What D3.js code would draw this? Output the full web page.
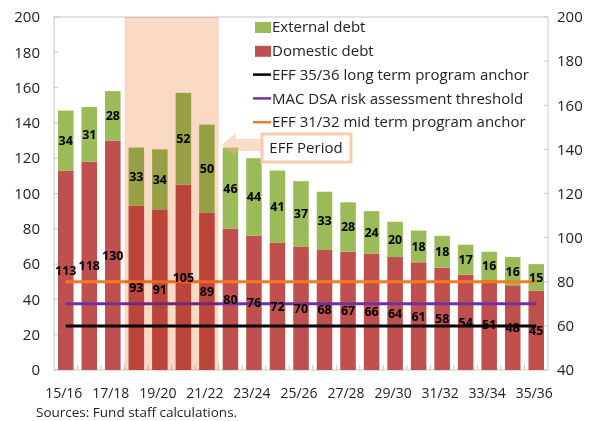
<!DOCTYPE html>
<html><head><meta charset="utf-8">
<script src="https://cdn.jsdelivr.net/npm/d3@7"></script>
<style>
html,body{margin:0;padding:0;background:#fff;}
svg{display:block;font-family:"Open Sans",sans-serif;}
</style></head>
<body><svg id="c" width="593" height="421"></svg>
<script>
const categories = ["15/16","16/17","17/18","18/19","19/20","20/21","21/22","22/23","23/24","24/25","25/26","26/27","27/28","28/29","29/30","30/31","31/32","32/33","33/34","34/35","35/36"];
const domestic = [113,118,130,93,91,105,89,80,76,72,70,68,67,66,64,61,58,54,51,48,45];
const external = [34,31,28,33,34,52,50,46,44,41,37,33,28,24,20,18,18,17,16,16,15];
const tickLabels = ["15/16","17/18","19/20","21/22","23/24","25/26","27/28","29/30","31/32","33/34","35/36"];
const leftTicks = [0,20,40,60,80,100,120,140,160,180,200];
const rightTicks = [40,60,80,100,120,140,160,180,200];
const anchors = [
  {name:"EFF 35/36 long term program anchor", value:60, color:"#000000"},
  {name:"MAC DSA risk assessment threshold", value:70, color:"#7030A0"},
  {name:"EFF 31/32 mid term program anchor", value:80, color:"#F47B20"}
];
const effPeriod = ["18/19","21/22"];
const colors = {ext:"#9BBB59", dom:"#C0504D"};

const svg = d3.select("#c");
const L=54, R=548, T=17, B=370;
const x = d3.scaleBand().domain(categories).range([L,R]).paddingInner(0.34).paddingOuter(0.17);
const xb = d3.scaleBand().domain(categories).range([L,R]);
const y = d3.scaleLinear().domain([0,200]).range([B,T]);
const y2 = d3.scaleLinear().domain([40,200]).range([B,T]);

// frame
svg.append("rect").attr("x",L).attr("y",T).attr("width",R-L).attr("height",B-T)
  .attr("fill","none").attr("stroke","#c8c8c8").attr("stroke-width",1);

// bars
const g = svg.append("g");
g.selectAll(".dom").data(categories).join("rect")
  .attr("x",d=>x(d)).attr("width",x.bandwidth())
  .attr("y",(d,i)=>y(domestic[i])).attr("height",(d,i)=>y(0)-y(domestic[i]))
  .attr("fill",colors.dom);
g.selectAll(".ext").data(categories).join("rect")
  .attr("x",d=>x(d)).attr("width",x.bandwidth())
  .attr("y",(d,i)=>y(domestic[i]+external[i])).attr("height",(d,i)=>y(domestic[i])-y(domestic[i]+external[i]))
  .attr("fill",colors.ext);

// bottom ticks
svg.append("g").selectAll("line").data(d3.range(1,categories.length)).join("line")
  .attr("x1",i=>L+i*xb.step()).attr("x2",i=>L+i*xb.step())
  .attr("y1",B-5).attr("y2",B).attr("stroke","#c8c8c8");
// left ticks
svg.append("g").selectAll("line").data(leftTicks).join("line")
  .attr("x1",L).attr("x2",L+4).attr("y1",d=>y(d)).attr("y2",d=>y(d)).attr("stroke","#c8c8c8");

// anchor lines (right axis)
const first = categories[0], last = categories[categories.length-1];
svg.append("g").selectAll("line").data(anchors).join("line")
  .attr("x1",x(first)+x.bandwidth()/2).attr("x2",x(last)+x.bandwidth()/2)
  .attr("y1",d=>y2(d.value)).attr("y2",d=>y2(d.value))
  .attr("stroke",d=>d.color).attr("stroke-width",3);

// EFF period shading
const sx0 = xb(effPeriod[0]), sx1 = xb(effPeriod[1])+xb.step();
svg.append("rect").attr("x",sx0).attr("y",T).attr("width",sx1-sx0).attr("height",B-T)
  .attr("fill","#F9D9C3").style("mix-blend-mode","multiply");

// labels
const lab = svg.append("g").attr("font-size",12.5).attr("font-weight",700).attr("fill","#000").attr("text-anchor","middle");
lab.selectAll(".ld").data(categories).join("text")
  .attr("x",d=>x(d)+x.bandwidth()/2).attr("y",(d,i)=>y(domestic[i]/2)).attr("dy","0.35em")
  .text((d,i)=>domestic[i]);
lab.selectAll(".le").data(categories).join("text")
  .attr("x",d=>x(d)+x.bandwidth()/2).attr("y",(d,i)=>y(domestic[i]+external[i]/2)).attr("dy","0.35em")
  .text((d,i)=>external[i]);

// left axis labels
svg.append("g").selectAll("text").data(leftTicks).join("text")
  .attr("x",40).attr("y",d=>y(d)).attr("dy","0.35em").attr("text-anchor","end")
  .attr("font-size",15).attr("fill","#222").text(d=>d);
// right axis
svg.append("g").selectAll("line").data(rightTicks).join("line")
  .attr("x1",R-4).attr("x2",R).attr("y1",d=>y2(d)).attr("y2",d=>y2(d)).attr("stroke","#c8c8c8");
svg.append("g").selectAll("text").data(rightTicks).join("text")
  .attr("x",557).attr("y",d=>y2(d)).attr("dy","0.35em").attr("text-anchor","start")
  .attr("font-size",15).attr("fill","#222").text(d=>d);
// x labels
svg.append("g").selectAll("text").data(tickLabels).join("text")
  .attr("x",d=>xb(d)+xb.bandwidth()/2-2).attr("y",393).attr("dy","0.35em").attr("text-anchor","middle")
  .attr("font-size",14).attr("fill","#222").text(d=>d);

// legend
const leg = svg.append("g").attr("font-size",15).attr("fill","#222");
const legItems = [
  {name:"External debt", type:"box", color:colors.ext},
  {name:"Domestic debt", type:"box", color:colors.dom},
  ...anchors.map(a=>({name:a.name,type:"line",color:a.color}))
];
legItems.forEach((it,i)=>{
  const cy = 27 + i*23.8;
  if(it.type==="box") leg.append("rect").attr("x",255).attr("y",cy-5).attr("width",16).attr("height",11).attr("fill",it.color);
  else leg.append("line").attr("x1",253).attr("x2",271).attr("y1",cy).attr("y2",cy).attr("stroke",it.color).attr("stroke-width",2.5);
  leg.append("text").attr("x",272).attr("y",cy).attr("dy","0.35em").text(it.name);
});

// EFF Period callout
const tipX = sx1 + 3, cyA = 145;
svg.append("path")
  .attr("d",`M${tipX},${cyA} L${tipX+14},${cyA-12} L${tipX+14},${cyA-6} L262,${cyA-6} L262,${cyA+6} L${tipX+14},${cyA+6} L${tipX+14},${cyA+12} Z`)
  .attr("fill","#F4B183").attr("opacity",0.45);
svg.append("rect").attr("x",262).attr("y",134).attr("width",89).attr("height",28)
  .attr("fill","#fff").attr("stroke","#F8CBAD").attr("stroke-width",3);
svg.append("text").attr("x",306).attr("y",148).attr("dy","0.35em").attr("text-anchor","middle")
  .attr("font-size",15).attr("fill","#222").text("EFF Period");

// source
svg.append("text").attr("x",36).attr("y",416.5).attr("font-size",13.5).attr("fill","#222").text("Sources: Fund staff calculations.");
</script></body></html>
